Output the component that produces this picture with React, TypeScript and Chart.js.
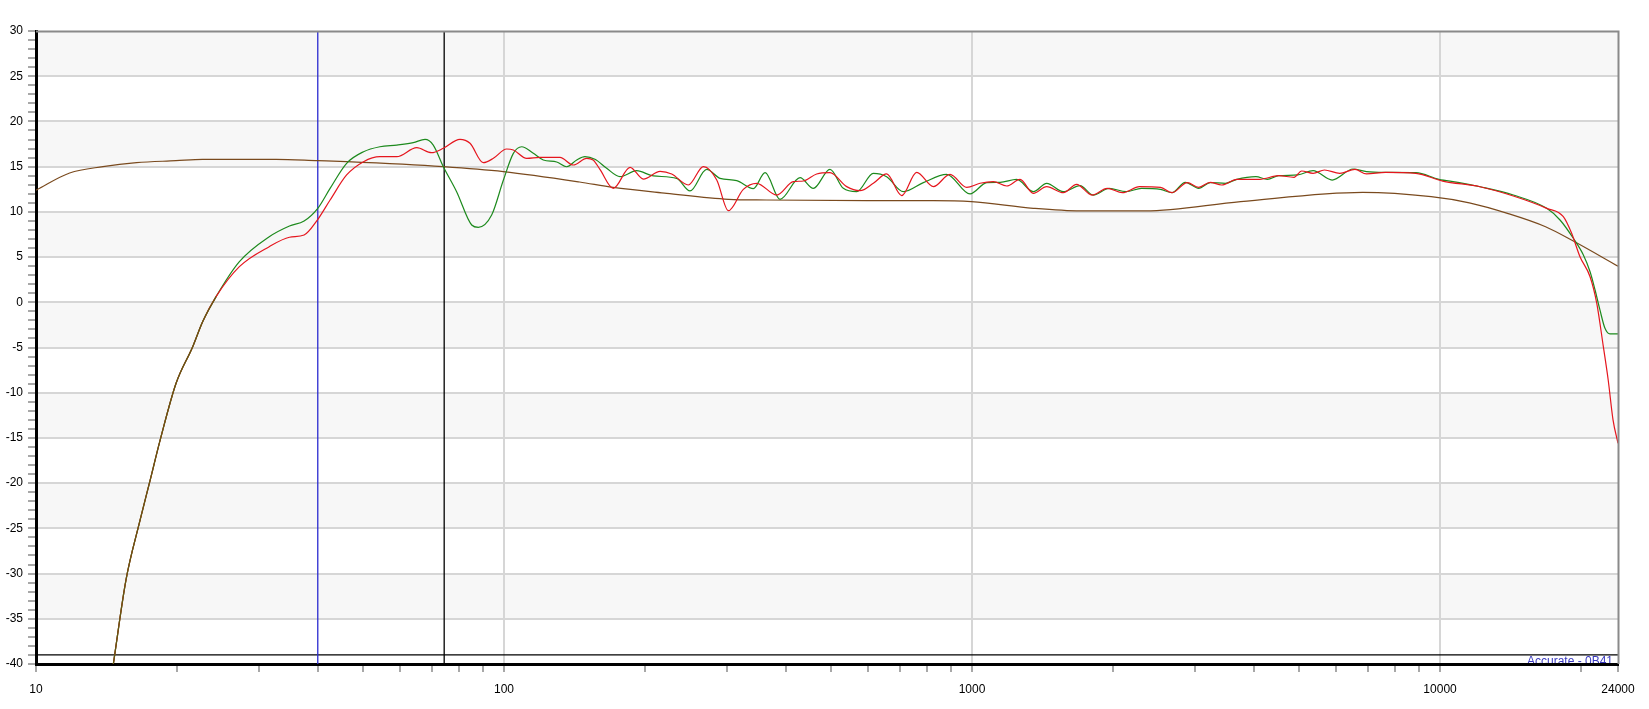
import React, { useEffect, useRef } from "react";
import { Chart, registerables } from "chart.js";

Chart.register(...registerables);

// ---------- axis ranges and ticks ----------
const X_MIN = 10;
const X_MAX = 24000;
const Y_MIN = -40;
const Y_MAX = 30;
const X_TICKS = [
  10, 20, 30, 40, 50, 60, 70, 80, 90,
  100, 200, 300, 400, 500, 600, 700, 800, 900,
  1000, 2000, 3000, 4000, 5000, 6000, 7000, 8000, 9000,
  10000, 20000, 24000,
];
const X_LABELS = [10, 100, 1000, 10000, 24000];
const X_GRID = [100, 1000, 10000];

// ---------- markers ----------
const MARKER_BLUE_HZ = 40;
const MARKER_BLACK_HZ = 74.5;
const REF_LINE_DB = -39;
const CORNER_TEXT = "Accurate - 0B41";

// ---------- shared low-frequency roll-off (both channels) ----------
const lowFreqs = [14.63, 15.57, 16.63, 17.47, 18.5, 19.92, 21.62, 22.7, 24.25];
const lowDb = [-40, -30.7, -24.4, -20.0, -14.86, -8.96, -4.91, -2.15, 0.62];

// ---------- green channel ----------
const greenFreqs = [
  27.2, 31.5, 34.8, 37.4, 40, 42.5, 46.1, 50.1, 54.3, 59.0, 64.0, 67.8, 70.6, 74.2, 79.2, 85.3, 88.1,
  94.1, 99.7, 104.7, 109.1, 115.5, 121.3, 129.6, 136.1, 143, 148.9, 156.4, 165.7, 176.9, 192.1, 208.5,
  233.8, 249.7, 271, 289.4, 314.2, 341, 361.3, 388.8, 429, 458.1, 497.1, 530.9, 567, 615.4, 657, 713.3,
  786.9, 882.8, 990.1, 1075, 1148, 1245.6, 1352, 1443.6, 1567, 1701, 1816, 1963, 2135, 2301, 2527,
  2675, 2856, 3050, 3227, 3478, 3679, 4041, 4275, 4522, 4966, 5354, 5880, 6519, 6963, 7645, 8880, 9940,
  10918, 12175, 14339, 16902, 18043, 19262, 20240, 20918, 21440, 21960, 22510, 23070, 24000,
];
const greenDb = [
  4.49, 7.25, 8.44, 8.99, 10.39, 12.6, 15.37, 16.65, 17.2, 17.39, 17.65, 18.02, 17.39, 14.99, 12.23, 8.55, 8.29,
  9.65, 13.52, 16.47, 17.2, 16.47, 15.74, 15.51, 14.99, 15.74, 16.1, 15.81, 14.82, 13.89, 14.55, 13.97,
  13.71, 12.31, 14.7, 13.71, 13.45, 12.57, 14.34, 11.39, 13.78, 12.6, 14.7, 12.6, 12.23, 14.26, 13.89, 12.23,
  13.23, 14.15, 11.98, 13.23, 13.27, 13.6, 12.23, 13.16, 12.23, 12.9, 11.86, 12.6, 12.23, 12.6, 12.49,
  12.12, 13.27, 12.6, 13.23, 13.16, 13.6, 13.89, 13.6, 14.0, 14.08, 14.56, 13.52, 14.74, 14.45, 14.37, 14.34, 13.6,
  13.27, 12.78, 11.86, 10.39, 9.1, 7.08, 5.23, 3.38, 1.36, -0.85, -2.88, -3.5, -3.5,
];

// ---------- red channel ----------
const redFreqs = [
  27.2, 31.5, 34.8, 37.4, 39.8, 42.5, 46.1, 50.1, 54.3, 59.0, 65.1, 70.0, 74.2, 80.5, 84.6, 90.3, 94.9,
  101.3, 104.7, 111.8, 119.4, 131.7, 140.6, 150.2, 155, 160.3, 171.2, 185.9, 198.5, 215.5, 228.2, 247.6,
  266.7, 284.8, 301.6, 324.6, 346.6, 382.4, 415.1, 436.1, 465.6, 497.1, 539.7, 576.4, 615.4, 657, 707.5,
  761.6, 826.8, 897.4, 974.1, 1040, 1110.5, 1186, 1266.5, 1352, 1443.6, 1567, 1673, 1804, 1945, 2096,
  2280, 2527, 2675, 2883, 3050, 3227, 3414, 3679, 4118, 4522, 4875, 5061, 5354, 5662, 6104, 6580, 6963,
  7645, 8880, 10127, 12175, 14339, 16902, 18340, 19105, 19906, 20918, 21620, 22330, 22870, 23420, 24000,
];
const redDb = [
  3.94, 6.15, 7.19, 7.44, 9.0, 11.31, 14.08, 15.55, 16.1, 16.1, 17.1, 16.54, 17.03, 18.02, 17.58, 15.44, 15.92,
  16.95, 16.84, 15.92, 16.03, 16.03, 15.18, 15.92, 15.74, 14.7, 12.6, 14.92, 13.63, 14.48, 14.19, 12.97,
  15.0, 13.52, 10.13, 12.49, 13.16, 11.86, 13.34, 13.41, 14.19, 14.34, 12.79, 12.34, 13.16, 14.19, 11.79,
  14.37, 12.79, 14.15, 12.71, 13.16, 13.34, 12.86, 13.6, 12.05, 12.79, 12.12, 13.04, 11.86, 12.6, 12.12,
  12.79, 12.71, 12.12, 13.23, 12.71, 13.27, 12.97, 13.6, 13.6, 14.0, 13.82, 14.52, 14.26, 14.63, 14.26, 14.7, 14.19,
  14.37, 14.26, 13.4, 12.78, 11.75, 10.39, 9.47, 7.63, 5.04, 2.83, -0.11, -4.91, -8.59, -13.0, -15.6,
];

// ---------- target curve (brown) ----------
const targetFreqs = [
  10, 11.8, 13.9, 16.4, 19.9, 22.7, 32.6, 40, 46.1, 74.2, 99.7, 145, 171, 222.6, 301.6, 363.7, 595.5,
  826.8, 997, 1352, 1705, 2346, 3749, 6831, 9572, 11548, 13932, 16806, 19262, 24000,
];
const targetDb = [
  12.4, 14.3, 15.0, 15.44, 15.66, 15.81, 15.81, 15.66, 15.55, 15.0, 14.45, 13.3, 12.7, 12.05, 11.39, 11.31, 11.24,
  11.24, 11.13, 10.39, 10.1, 10.1, 11.13, 12.16, 11.68, 11.0, 9.84, 8.36, 6.78, 4.0,
];

const toPoints = (fs: number[], ds: number[]) => fs.map((f, i) => ({ x: f, y: ds[i] }));

const COLORS = {
  red: "#e5161e",
  green: "#1d8a1d",
  olive: "#5e5a14",
  brown: "#7a4a1e",
  blue: "#2b2bd0",
  black: "#000000",
  band: "#f7f7f7",
  grid: "#d6d6d6",
  tick: "#a8a8a8",
  frame: "#8a8a8a",
  text: "#3a3ac0",
};

const bandsPlugin = {
  id: "bands",
  beforeDraw(chart: any) {
    const { ctx, chartArea: a, scales } = chart;
    const y = scales.y;
    ctx.save();
    ctx.fillStyle = "#ffffff";
    ctx.fillRect(0, 0, chart.width, chart.height);
    let i = 0;
    for (let v = Y_MAX; v > Y_MIN; v -= 5, i++) {
      if (i % 2 === 0) {
        const t = y.getPixelForValue(v);
        const b = y.getPixelForValue(v - 5);
        ctx.fillStyle = COLORS.band;
        ctx.fillRect(a.left, t, a.right - a.left, b - t);
      }
    }
    ctx.restore();
  },
  beforeDatasetsDraw(chart: any) {
    const { ctx, chartArea: a } = chart;
    ctx.save();
    ctx.beginPath();
    ctx.rect(a.left, a.top, a.right - a.left, a.bottom - a.top - 1);
    ctx.clip();
    ctx.font = '12px "Liberation Sans", Arial, sans-serif';
    ctx.fillStyle = COLORS.text;
    ctx.textAlign = "right";
    ctx.textBaseline = "alphabetic";
    ctx.fillText(CORNER_TEXT, a.right - 5, a.bottom + 1);
    ctx.restore();
  },
  afterDraw(chart: any) {
    const { ctx, chartArea: a } = chart;
    ctx.save();
    ctx.strokeStyle = COLORS.frame;
    ctx.lineWidth = 2;
    ctx.beginPath();
    ctx.moveTo(a.left, a.top + 0.5);
    ctx.lineTo(a.right + 0.5, a.top + 0.5);
    ctx.lineTo(a.right + 0.5, a.bottom);
    ctx.stroke();
    ctx.restore();
  },
};

export default function App() {
  const ref = useRef<HTMLCanvasElement>(null);

  useEffect(() => {
    const canvas = ref.current;
    if (!canvas) return;
    Chart.defaults.font.family = '"Liberation Sans", Arial, sans-serif';
    Chart.defaults.font.size = 12;
    Chart.defaults.color = "#000";

    const lineBase = {
      pointRadius: 0,
      pointHoverRadius: 0,
      borderWidth: 1.2,
      fill: false,
      cubicInterpolationMode: "monotone" as const,
    };

    const chart = new Chart(canvas, {
      type: "line",
      data: {
        datasets: [
          {
            ...lineBase,
            label: "ref",
            data: [
              { x: X_MIN, y: REF_LINE_DB },
              { x: X_MAX, y: REF_LINE_DB },
            ],
            borderColor: COLORS.black,
            borderWidth: 1.3,
            order: 7,
          },
          {
            ...lineBase,
            label: "blue",
            data: [
              { x: MARKER_BLUE_HZ, y: Y_MIN },
              { x: MARKER_BLUE_HZ, y: Y_MAX },
            ],
            borderColor: COLORS.blue,
            borderWidth: 1.3,
            order: 6,
          },
          {
            ...lineBase,
            label: "black",
            data: [
              { x: MARKER_BLACK_HZ, y: Y_MIN },
              { x: MARKER_BLACK_HZ, y: Y_MAX },
            ],
            borderColor: COLORS.black,
            borderWidth: 1.3,
            order: 5,
          },
          {
            ...lineBase,
            label: "target",
            data: toPoints(targetFreqs, targetDb),
            borderColor: COLORS.brown,
            order: 4,
          },
          {
            ...lineBase,
            label: "green",
            data: toPoints(lowFreqs.concat(greenFreqs), lowDb.concat(greenDb)),
            borderColor: COLORS.green,
            order: 3,
          },
          {
            ...lineBase,
            label: "red",
            data: toPoints(lowFreqs.concat(redFreqs), lowDb.concat(redDb)),
            borderColor: COLORS.red,
            order: 2,
          },
          {
            ...lineBase,
            label: "overlap",
            data: toPoints(lowFreqs, lowDb),
            borderColor: COLORS.olive,
            order: 1,
          },
        ],
      },
      options: {
        responsive: false,
        animation: false,
        devicePixelRatio: 1,
        parsing: false as any,
        normalized: true,
        layout: { padding: { top: 31, right: 31, left: 0, bottom: 0 } },
        plugins: {
          legend: { display: false },
          tooltip: { enabled: false },
          title: { display: false },
        },
        events: [],
        scales: {
          x: {
            type: "logarithmic",
            min: X_MIN,
            max: X_MAX,
            afterBuildTicks: (scale: any) => {
              scale.ticks = X_TICKS.map((v) => ({ value: v }));
            },
            afterFit: (scale: any) => {
              scale.height = 45;
            },
            ticks: {
              autoSkip: false,
              maxRotation: 0,
              minRotation: 0,
              padding: 10,
              color: "#000",
              font: { size: 12 },
              callback: (value: any) => (X_LABELS.includes(Number(value)) ? String(value) : ""),
            },
            grid: {
              color: (ctx: any) =>
                ctx.tick && X_GRID.includes(ctx.tick.value) ? COLORS.grid : "rgba(0,0,0,0)",
              lineWidth: 2,
              tickColor: COLORS.tick,
              tickWidth: 2,
              tickLength: 8,
            },
            border: { display: true, color: "#000", width: 3 },
          },
          y: {
            type: "linear",
            min: Y_MIN,
            max: Y_MAX,
            afterFit: (scale: any) => {
              scale.width = 36;
            },
            ticks: {
              stepSize: 1,
              autoSkip: false,
              padding: 5,
              color: "#000",
              font: { size: 12 },
              callback: (value: any) => (Number(value) % 5 === 0 ? String(value) : ""),
            },
            grid: {
              color: (ctx: any) =>
                ctx.tick && ctx.tick.value % 5 === 0 && ctx.tick.value !== Y_MIN && ctx.tick.value !== Y_MAX
                  ? COLORS.grid
                  : "rgba(0,0,0,0)",
              lineWidth: 2,
              tickColor: COLORS.tick,
              tickWidth: 2,
              tickLength: 8,
            },
            border: { display: true, color: "#000", width: 3 },
          },
        },
      },
      plugins: [bandsPlugin],
    } as any);

    return () => chart.destroy();
  }, []);

  return (
    <canvas
      ref={ref}
      width={1649}
      height={709}
      style={{ position: "absolute", left: 0, top: 0, width: "1649px", height: "709px", display: "block" }}
    />
  );
}
